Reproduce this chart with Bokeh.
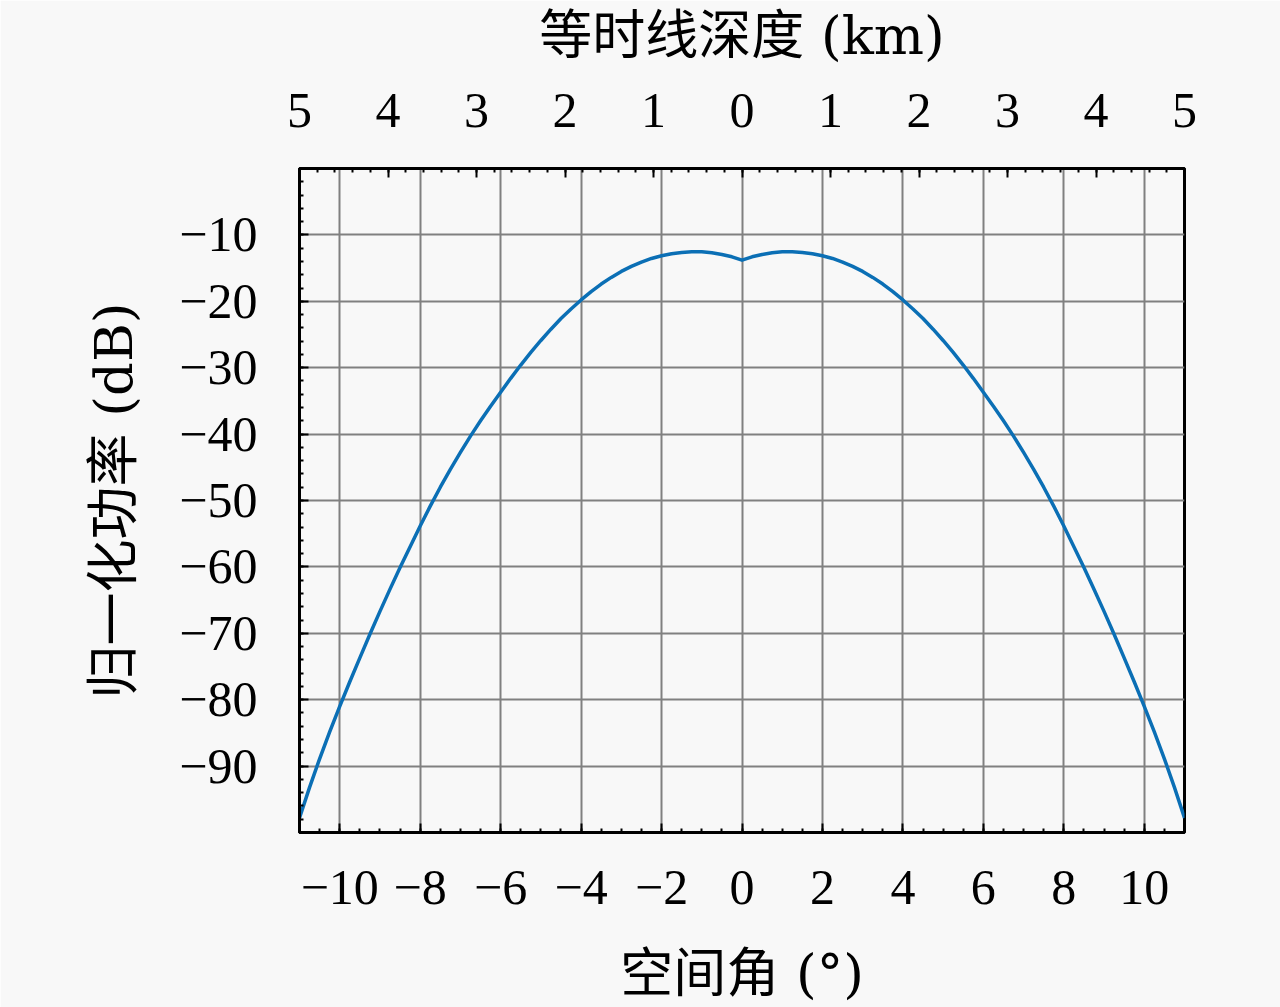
from bokeh.plotting import figure
from bokeh.models import (Range1d, LinearAxis, FixedTicker, CustomJSTickFormatter)
from bokeh.embed import file_html
from bokeh.resources import INLINE

# ---- data ----
# spatial angle (deg) and normalised power (dB); curve is symmetric about 0
angle_pos = [0.0, 0.25, 0.5, 0.75, 1.0, 1.25, 1.5, 1.75, 2.0, 2.25, 2.5, 2.75,
             3.0, 3.25, 3.5, 3.75, 4.0, 4.25, 4.5, 4.75, 5.0, 5.25, 5.5, 5.75,
             6.0, 6.25, 6.5, 6.75, 7.0, 7.25, 7.5, 7.75, 8.0, 8.25, 8.5, 8.75,
             9.0, 9.25, 9.5, 9.75, 10.0, 10.25, 10.5, 10.75, 11.0]
power_pos = [-13.8, -13.3, -12.95, -12.7, -12.55, -12.55, -12.65, -12.85,
             -13.15, -13.55, -14.1, -14.75, -15.5, -16.4, -17.4, -18.55,
             -19.8, -21.15, -22.6, -24.2, -25.9, -27.7, -29.6, -31.6,
             -33.7, -35.8, -38.0, -40.3, -42.75, -45.3, -48.0, -50.85,
             -53.85, -56.95, -60.1, -63.35, -66.7, -70.15, -73.7, -77.3,
             -81.0, -84.85, -88.9, -93.2, -97.8]
angle = [-a for a in reversed(angle_pos[1:])] + angle_pos
power = list(reversed(power_pos[1:])) + power_pos

x_ticks = [-10, -8, -6, -4, -2, 0, 2, 4, 6, 8, 10]
x_minor = [i * 0.5 for i in range(-22, 23)]
y_ticks = [-90, -80, -70, -60, -50, -40, -30, -20, -10]
y_minor = [float(v) for v in range(-100, 1, 2)]
km_ticks = [-5, -4, -3, -2, -1, 0, 1, 2, 3, 4, 5]
km_minor = [round(i * 0.2, 1) for i in range(-25, 26)]

x_label = "空间角 (°)"
y_label = "归一化功率 (dB)"
top_label = "等时线深度 (km)"

BG = "#f8f8f8"
NUM_FONT = "Liberation Serif"
LBL_FONT = "'DejaVu Serif', 'Noto Sans CJK SC'"

p = figure(width=1280, height=1007, output_backend="svg", toolbar_location=None,
           x_range=Range1d(-11, 11), y_range=Range1d(-100, 0),
           x_axis_location=None, y_axis_location=None,
           min_border_left=299, min_border_right=96,
           min_border_top=168, min_border_bottom=175)
p.background_fill_color = BG
p.border_fill_color = BG
p.outline_line_color = "black"
p.outline_line_width = 3

p.extra_x_ranges = {"km": Range1d(-5, 5)}

minus_fmt = CustomJSTickFormatter(code="return tick < 0 ? '\\u2212' + Math.abs(tick) : String(tick);")
abs_fmt = CustomJSTickFormatter(code="return String(Math.abs(tick));")

def style(ax, label):
    ax.axis_label = label
    ax.axis_label_text_font = LBL_FONT
    ax.axis_label_text_font_size = "53px"
    ax.axis_label_text_font_style = "normal"
    ax.axis_label_text_color = "black"
    ax.major_label_text_font = NUM_FONT
    ax.major_label_text_font_size = "50px"
    ax.major_label_text_color = "black"
    ax.axis_line_width = 3
    ax.axis_line_color = "black"
    ax.major_tick_in = 9
    ax.major_tick_out = 0
    ax.minor_tick_in = 4
    ax.minor_tick_out = 0
    ax.major_tick_line_width = 2
    ax.minor_tick_line_width = 2
    ax.major_tick_line_color = "black"
    ax.minor_tick_line_color = "black"

xb = LinearAxis(ticker=FixedTicker(ticks=x_ticks, minor_ticks=x_minor), formatter=minus_fmt)
style(xb, x_label)
xb.major_label_standoff = 38
xb.axis_label_standoff = 36
p.add_layout(xb, "below")

yl = LinearAxis(ticker=FixedTicker(ticks=y_ticks, minor_ticks=y_minor), formatter=minus_fmt)
style(yl, y_label)
yl.major_label_standoff = 42
yl.axis_label_standoff = 32
p.add_layout(yl, "left")

xt = LinearAxis(x_range_name="km", ticker=FixedTicker(ticks=km_ticks, minor_ticks=km_minor), formatter=abs_fmt)
style(xt, top_label)
xt.major_label_standoff = 42
xt.axis_label_standoff = 25
p.add_layout(xt, "above")

p.xgrid.ticker = FixedTicker(ticks=x_ticks)
p.ygrid.ticker = FixedTicker(ticks=y_ticks)
for g in (p.xgrid, p.ygrid):
    g.grid_line_color = "#808080"
    g.grid_line_width = 2
    g.grid_line_alpha = 1.0

p.line(angle, power, line_color="#0b6fb5", line_width=3.5, line_join="round")

html = file_html(p, INLINE)
html = html.replace("<body>", '<body style="background:%s">' % BG, 1)
open("out.html", "w").write(html)
